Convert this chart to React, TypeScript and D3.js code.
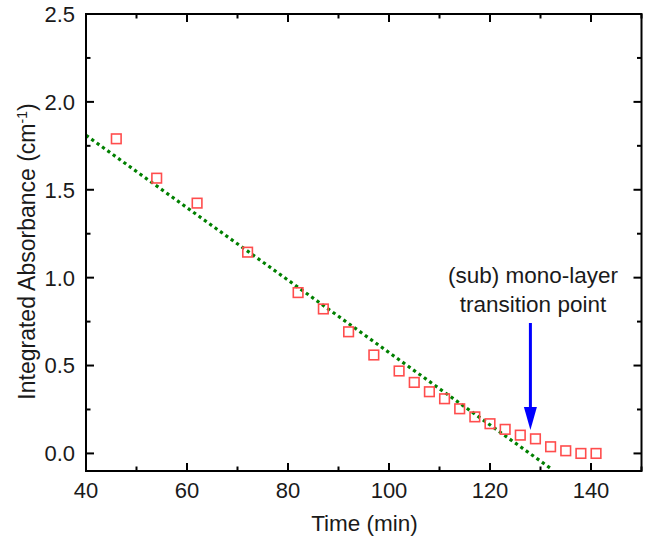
import React from "react";
import * as d3 from "d3";

// ---- data ----
const timeMin = [46, 54, 62, 72, 82, 87, 92, 97, 102, 105, 108, 111, 114, 117, 120, 123, 126, 129, 132, 135, 138, 141];
const absorbance = [1.79, 1.566, 1.424, 1.145, 0.915, 0.822, 0.692, 0.56, 0.469, 0.404, 0.351, 0.311, 0.254, 0.208, 0.169, 0.137, 0.104, 0.083, 0.038, 0.015, 0.0, 0.0];
const fitX = [40, 132];
const fitY = [1.81, -0.085];
const xTicks = [40, 60, 80, 100, 120, 140];
const xMinorTicks = [50, 70, 90, 110, 130, 150];
const yTicks = [0, 0.5, 1.0, 1.5, 2.0, 2.5];
const yMinorTicks = [0.25, 0.75, 1.25, 1.75, 2.25];
const arrowX = 128;
const arrowTop = 0.742;
const arrowTip = 0.133;
const annotationLines = ["(sub) mono-layer", "transition point"];

const W = 652;
const H = 536;
const M = { left: 86, right: 641.5, top: 14, bottom: 471 };

export default function App() {
  const x = d3.scaleLinear().domain([40, 150]).range([M.left, M.right]);
  const y = d3.scaleLinear().domain([-0.1, 2.5]).range([M.bottom, M.top]);
  const font = "'Liberation Sans', Arial, sans-serif";
  const fitLine = d3
    .line<number>()
    .x((_, i) => x(fitX[i]))
    .y((d) => y(d))(fitY) as string;

  const major = 8;
  const minor = 4.5;
  const ax = x(arrowX);
  const headLen = 23;
  const headW = 6.5;
  const tipY = y(arrowTip);

  return (
    <svg width={W} height={H} style={{ position: "absolute", left: 0, top: 0, background: "#fff" }} fontFamily={font}>
      <rect x={0} y={0} width={W} height={H} fill="#fff" />
      {/* fit line */}
      <path d={fitLine} fill="none" stroke="#008000" strokeWidth={3.2} strokeDasharray="3.2 3.4" />
      {/* data */}
      {timeMin.map((t, i) => (
        <rect key={i} x={x(t) - 4.8} y={y(absorbance[i]) - 4.8} width={9.6} height={9.6} fill="none" stroke="#ff4d4d" strokeWidth={1.6} />
      ))}
      {/* arrow */}
      <line x1={ax} x2={ax} y1={y(arrowTop)} y2={tipY - headLen + 2} stroke="#0000ff" strokeWidth={3} />
      <path d={`M${ax - headW},${tipY - headLen}L${ax + headW},${tipY - headLen}L${ax},${tipY}Z`} fill="#0000ff" />
      {annotationLines.map((s, i) => (
        <text key={i} x={533} y={283 + i * 28.5} textAnchor="middle" fontSize={22.5} fill="#1a1a1a">
          {s}
        </text>
      ))}
      {/* frame */}
      <rect x={M.left} y={M.top} width={M.right - M.left} height={M.bottom - M.top} fill="none" stroke="#000" strokeWidth={2} />
      {/* x ticks */}
      {xTicks.map((t) => (
        <g key={"xt" + t}>
          <line x1={x(t)} x2={x(t)} y1={M.bottom} y2={M.bottom - major} stroke="#000" strokeWidth={2} />
          <line x1={x(t)} x2={x(t)} y1={M.top} y2={M.top + major} stroke="#000" strokeWidth={2} />
          <text x={x(t)} y={498} textAnchor="middle" fontSize={22} fill="#1a1a1a">
            {t}
          </text>
        </g>
      ))}
      {xMinorTicks.map((t) => (
        <g key={"xm" + t}>
          <line x1={x(t)} x2={x(t)} y1={M.bottom} y2={M.bottom - minor} stroke="#000" strokeWidth={2} />
          <line x1={x(t)} x2={x(t)} y1={M.top} y2={M.top + minor} stroke="#000" strokeWidth={2} />
        </g>
      ))}
      {yTicks.map((t) => (
        <g key={"yt" + t}>
          <line x1={M.left} x2={M.left + major} y1={y(t)} y2={y(t)} stroke="#000" strokeWidth={2} />
          <line x1={M.right} x2={M.right - major} y1={y(t)} y2={y(t)} stroke="#000" strokeWidth={2} />
          <text x={75} y={y(t)} dy="0.36em" textAnchor="end" fontSize={22} fill="#1a1a1a">
            {d3.format(".1f")(t)}
          </text>
        </g>
      ))}
      {yMinorTicks.map((t) => (
        <g key={"ym" + t}>
          <line x1={M.left} x2={M.left + minor} y1={y(t)} y2={y(t)} stroke="#000" strokeWidth={2} />
          <line x1={M.right} x2={M.right - minor} y1={y(t)} y2={y(t)} stroke="#000" strokeWidth={2} />
        </g>
      ))}
      {/* axis titles */}
      <text x={364.5} y={531} textAnchor="middle" fontSize={22.5} fill="#1a1a1a">
        Time (min)
      </text>
      <text transform="translate(35,251.5) rotate(-90)" textAnchor="middle" fontSize={23} fill="#1a1a1a">
        Integrated Absorbance (cm
        <tspan dy={-8} fontSize={14}>-1</tspan>
        <tspan dy={8}>)</tspan>
      </text>
    </svg>
  );
}
